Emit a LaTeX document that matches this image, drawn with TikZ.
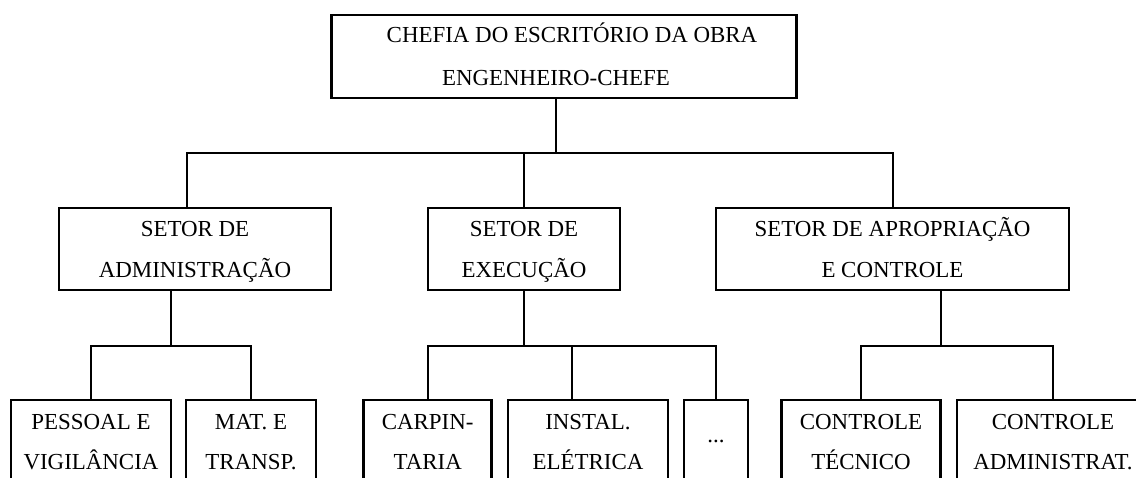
\documentclass[tikz,border=0pt]{standalone}
\usepackage{fontspec}
\setmainfont{Liberation Serif}
\usepackage{tikz}
\usetikzlibrary{positioning,calc}

\begin{document}
\begin{tikzpicture}[
  x=0.025cm, y=-0.025cm,
  box/.style={draw, line width=1.8pt, inner sep=0pt, align=center,
              minimum height=2.05cm, font=\fontsize{16.3}{28.45}\selectfont},
  twoline/.style={box, text height=1.5cm, text depth=0.1cm},
  link/.style={line width=1.7pt}]

\useasboundingbox (0,0) rectangle (1136,478);
\clip (0,0) rectangle (1136,478);

% ================= head of the office ====================================
\node[box, text height=1.55cm, text depth=0.125cm, minimum width=11.625cm,
      minimum height=2.075cm] (chefia) at (564,56.5)
     {\hspace*{0.4cm}CHEFIA DO ESCRITÓRIO DA OBRA\\[0.05cm]ENGENHEIRO-CHEFE\hspace*{0.4cm}};

% ================= the three sectors =====================================
\node[twoline, minimum width=6.8cm]   (adm) at (195,249)   {SETOR DE\\ADMINISTRAÇÃO};
\node[twoline, minimum width=4.8cm]   (exe) at (524,249)   {SETOR DE\\EXECUÇÃO};
\node[twoline, minimum width=8.825cm] (apr) at (892.5,249) {SETOR DE APROPRIAÇÃO\\E CONTROLE};

\coordinate (j0) at (556,153);
\coordinate (j1) at (187,153);
\coordinate (j2) at (524,153);
\coordinate (j3) at (893,153);

\draw[link] (chefia.south -| j0) -- (j0);
\draw[link] (j1 |- adm.north) -- (j1) -- (j3) -- (j3 |- apr.north);
\draw[link] (j2) -- (j2 |- exe.north);

% ================= the sections ==========================================
\node[twoline, minimum width=4.0cm]   (pes)  at (91,441)    {PESSOAL E\\VIGILÂNCIA};
\node[twoline, minimum width=3.25cm]  (mat)  at (251,441)   {MAT. E\\TRANSP.};
\node[twoline, minimum width=3.2cm]   (car)  at (427.7,441) {CARPIN-\\TARIA};
\node[twoline, minimum width=4.0cm]   (ins)  at (588,441)   {INSTAL.\\ELÉTRICA};
\node[box,     minimum width=1.6cm]   (etc)  at (716,441)   {...};
\node[twoline, minimum width=3.975cm] (ctec) at (861,441)   {CONTROLE\\TÉCNICO};
\node[twoline, minimum width=4.8cm]   (cadm) at (1053,441)  {CONTROLE\\ADMINISTRAT.};

\coordinate (ka) at (171,346);
\coordinate (ke) at (524,346);
\coordinate (ki) at (572,346);
\coordinate (kp) at (941,346);

\draw[link] (adm.south -| ka) -- (ka);
\draw[link] (pes.north) |- (ka) -| (mat.north);

\draw[link] (exe.south -| ke) -- (ke);
\draw[link] (car.north) |- (ke) -| (etc.north);
\draw[link] (ki) -- (ki |- ins.north);

\draw[link] (apr.south -| kp) -- (kp);
\draw[link] (ctec.north) |- (kp) -| (cadm.north);

\end{tikzpicture}
\end{document}
